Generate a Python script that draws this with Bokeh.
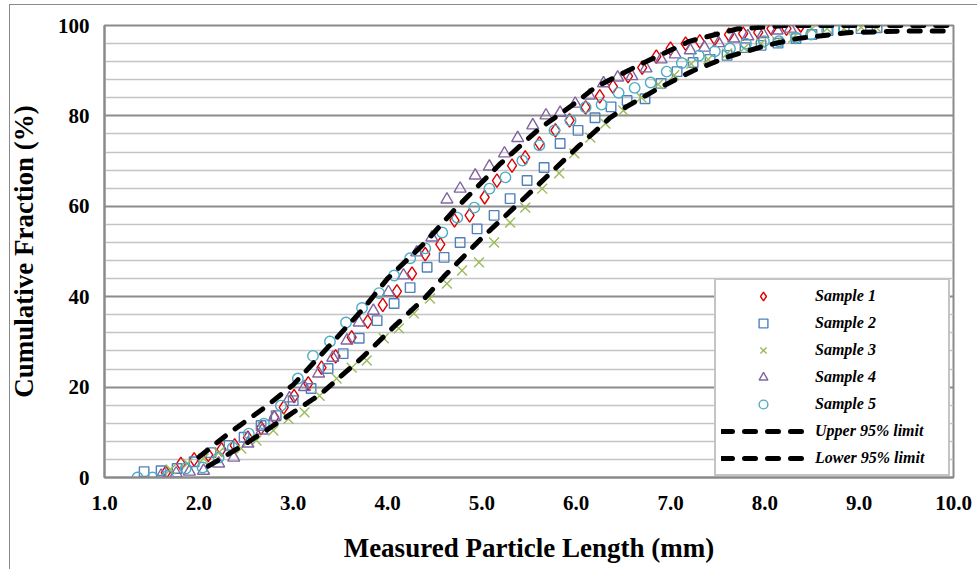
from bokeh.plotting import figure
from bokeh.models import (FixedTicker, Legend, LegendItem, NumeralTickFormatter,
                          InlineStyleSheet)
from bokeh.embed import file_html
from bokeh.resources import INLINE

# ---------------- data ----------------
s1_x = [1.65, 1.81, 1.95, 2.10, 2.24, 2.38, 2.52, 2.66, 2.80, 2.90, 3.01, 3.16, 3.30, 3.45,
        3.62, 3.79, 3.95, 4.10, 4.26, 4.40, 4.56, 4.71, 4.87, 5.03, 5.16, 5.32, 5.46, 5.61,
        5.78, 5.93, 6.10, 6.25, 6.39, 6.55, 6.70, 6.85, 7.00, 7.16, 7.31, 7.47, 7.62, 7.77,
        7.93, 8.07, 8.23, 8.38]
s1_y = [1.1, 3.0, 4.0, 5.0, 6.2, 7.1, 8.8, 11.0, 13.3, 15.5, 18.0, 20.8, 24.3, 26.8,
        31.0, 34.5, 38.2, 41.2, 45.1, 49.4, 51.6, 56.9, 58.0, 62.0, 65.7, 69.0, 70.8, 73.9,
        76.8, 79.0, 81.9, 84.3, 86.5, 88.8, 90.7, 93.1, 94.9, 96.0, 96.5, 97.1, 98.0, 98.2,
        98.5, 99.3, 99.3, 100.0]

s2_x = [1.42, 1.60, 1.77, 1.95, 2.13, 2.32, 2.48, 2.66, 2.82, 3.00, 3.19, 3.37, 3.53, 3.70,
        3.89, 4.07, 4.24, 4.42, 4.60, 4.77, 4.95, 5.13, 5.30, 5.48, 5.66, 5.83, 6.02, 6.20,
        6.37, 6.54, 6.73, 6.90, 7.07, 7.24, 7.42, 7.60, 7.79, 7.96, 8.14, 8.33, 8.50, 8.67,
        8.84, 9.02, 9.19]
s2_y = [1.3, 1.5, 2.0, 3.5, 5.5, 7.1, 8.9, 11.5, 13.7, 17.0, 19.7, 24.1, 27.4, 30.8,
        34.7, 38.5, 42.0, 46.5, 48.7, 52.0, 55.0, 58.0, 61.7, 65.7, 68.6, 73.9, 76.8, 79.6,
        82.0, 83.4, 83.8, 87.2, 89.8, 91.8, 92.5, 93.4, 95.1, 95.6, 96.1, 97.1, 98.0, 98.9,
        99.3, 99.3, 99.5]

s3_x = [1.70, 1.88, 2.05, 2.21, 2.45, 2.61, 2.79, 2.95, 3.12, 3.28, 3.46, 3.62, 3.78, 3.96,
        4.12, 4.28, 4.45, 4.63, 4.79, 4.97, 5.13, 5.30, 5.46, 5.64, 5.82, 5.98, 6.15, 6.31,
        6.50, 6.69, 6.87, 7.04, 7.22, 7.40, 7.60, 7.78, 7.96, 8.13, 8.30, 8.50, 8.66, 8.84,
        9.02, 9.18]
s3_y = [1.8, 3.1, 4.2, 5.5, 6.4, 8.2, 10.4, 13.0, 14.4, 18.1, 21.9, 24.3, 25.9, 30.8,
        33.0, 36.3, 39.6, 42.9, 45.8, 47.6, 52.0, 56.4, 59.7, 63.9, 67.3, 71.7, 75.2, 78.3,
        81.2, 84.1, 87.0, 89.0, 91.5, 92.5, 93.8, 95.0, 96.0, 96.5, 97.3, 99.3, 99.3, 99.3,
        99.6, 99.6]

s4_x = [1.60, 1.76, 1.90, 2.05, 2.21, 2.37, 2.52, 2.67, 2.80, 2.96, 3.12, 3.27, 3.42, 3.57,
        3.70, 3.85, 4.01, 4.17, 4.31, 4.47, 4.63, 4.77, 4.93, 5.08, 5.24, 5.38, 5.54, 5.68,
        5.83, 5.99, 6.14, 6.29, 6.44, 6.59, 6.74, 6.90, 7.05, 7.21, 7.36, 7.51, 7.67, 7.82,
        7.98, 8.13, 8.27]
s4_y = [0.4, 0.9, 1.3, 1.5, 3.1, 4.4, 7.5, 10.4, 13.3, 17.5, 20.0, 23.0, 26.5, 30.3,
        34.3, 36.9, 41.0, 44.7, 49.8, 53.1, 61.5, 63.9, 66.8, 68.8, 71.7, 75.1, 77.9, 80.1,
        80.7, 82.7, 84.5, 87.2, 88.5, 88.8, 90.5, 92.5, 93.6, 94.5, 95.1, 96.1, 97.1, 97.6,
        98.1, 98.9, 99.3]

s5_x = [1.35, 1.51, 1.67, 1.86, 2.04, 2.21, 2.36, 2.53, 2.69, 2.87, 3.05, 3.21, 3.39, 3.56,
        3.73, 3.91, 4.07, 4.24, 4.40, 4.58, 4.74, 4.92, 5.08, 5.25, 5.43, 5.61, 5.77, 5.94,
        6.10, 6.27, 6.45, 6.62, 6.79, 6.96, 7.12, 7.30, 7.47, 7.63, 7.80, 7.99, 8.15, 8.33,
        8.49, 8.66, 8.84]
s5_y = [0.0, 0.0, 0.4, 2.0, 2.2, 4.4, 6.6, 9.7, 11.9, 15.9, 21.9, 26.9, 30.1, 34.3,
        37.5, 40.8, 44.7, 48.5, 50.7, 54.2, 57.5, 59.7, 63.9, 66.4, 70.1, 73.5, 76.8, 79.0,
        81.9, 82.5, 85.1, 86.2, 87.4, 89.8, 91.7, 93.3, 94.3, 94.9, 96.0, 96.5, 96.5, 97.3,
        98.0, 98.9, 99.3]

upper_x = [2.0, 2.3, 2.7, 3.0, 3.4, 3.75, 4.0, 4.4, 4.7, 5.2, 5.6, 6.0, 6.2, 6.7, 7.2, 7.7,
           8.2, 10.0]
upper_y = [4.5, 9.5, 15.5, 20.5, 29.5, 37.5, 44.0, 52.0, 59.0, 69.5, 77.0, 83.0, 86.3, 91.6,
           96.5, 99.2, 100.0, 100.0]

lower_x = [2.1, 2.5, 2.9, 3.3, 3.73, 4.1, 4.4, 4.6, 5.0, 5.46, 6.0, 6.36, 6.53, 6.89, 7.24,
           7.6, 8.0, 8.34, 8.87, 9.5, 10.0]
lower_y = [2.5, 7.5, 13.0, 18.6, 26.5, 34.0, 39.8, 44.5, 53.0, 62.0, 72.8, 79.6, 82.0, 86.3,
           90.0, 93.0, 95.5, 97.1, 98.4, 98.8, 98.8]

x_ticks = [1, 2, 3, 4, 5, 6, 7, 8, 9, 10]
y_ticks = [0, 20, 40, 60, 80, 100]
y_minor = [v for v in range(0, 101, 4) if v % 20 != 0]

# name, x, y, marker, colour, size
series = [
    ("Sample 1", s1_x, s1_y, "diamond", "#e00000", 13.5),
    ("Sample 2", s2_x, s2_y, "square", "#4f81bd", 9.5),
    ("Sample 3", s3_x, s3_y, "x", "#9bbb59", 14),
    ("Sample 4", s4_x, s4_y, "triangle", "#8064a2", 12),
    ("Sample 5", s5_x, s5_y, "circle", "#4bacc6", 10.5),
]

FONT = "Liberation Serif"

p = figure(width=977, height=569, x_range=(1, 10), y_range=(0, 100),
           output_backend="svg", toolbar_location=None,
           min_border_left=104, min_border_right=24, min_border_top=25,
           min_border_bottom=92)

# thin outer chart-area border (left and top edges), drawn without touching layout
p.stylesheets = [InlineStyleSheet(css="""
:host::after {
  content: ""; position: absolute; left: 9px; top: 4px; right: -20px; bottom: -20px;
  border-left: 1.5px solid #8a8a8a; border-top: 1.5px solid #8a8a8a;
  pointer-events: none;
}
""")]

items = []
for name, xs, ys, marker, color, size in series:
    r = p.scatter(xs, ys, marker=marker, size=size, line_color=color,
                  fill_color=None, line_width=1.4)
    items.append(LegendItem(label=name, renderers=[r]))

ru = p.line(upper_x, upper_y, line_color="black", line_width=5, line_dash="11 12",
            line_cap="round")
rl = p.line(lower_x, lower_y, line_color="black", line_width=5, line_dash="11 12",
            line_cap="round")
items.append(LegendItem(label="Upper 95% limit", renderers=[ru]))
items.append(LegendItem(label="Lower 95% limit", renderers=[rl]))

# axes
p.xaxis.ticker = FixedTicker(ticks=x_ticks)
p.xaxis.formatter = NumeralTickFormatter(format="0.0")
p.yaxis.ticker = FixedTicker(ticks=y_ticks, minor_ticks=y_minor)
for ax in (p.xaxis, p.yaxis):
    ax.major_tick_line_color = None
    ax.minor_tick_line_color = None
    ax.axis_line_color = "#8a8a8a"
    ax.axis_line_width = 2
    ax.major_label_text_font = FONT
    ax.major_label_text_font_style = "bold"
    ax.major_label_text_font_size = "21px"
    ax.major_label_text_color = "black"
    ax.axis_label_text_font = FONT
    ax.axis_label_text_font_style = "bold"
    ax.axis_label_text_font_size = "27px"
    ax.axis_label_text_color = "black"
p.xaxis.axis_label = "Measured Particle Length (mm)"
p.yaxis.axis_label = "Cumulative Fraction (%)"
p.xaxis.major_label_standoff = 12
p.xaxis.axis_label_standoff = 20
p.yaxis.major_label_standoff = 9
p.yaxis.axis_label_standoff = 16

p.xgrid.visible = False
p.ygrid.grid_line_color = "#8c8c8c"
p.ygrid.grid_line_width = 2
p.ygrid.minor_grid_line_color = "#c4c4c4"
p.ygrid.minor_grid_line_width = 1.5

p.outline_line_color = "#8a8a8a"
p.outline_line_width = 2

legend = Legend(items=items, location=(610, 1), margin=0, padding=5, spacing=5,
                glyph_width=84, glyph_height=22, label_height=22, label_width=128,
                label_standoff=10, label_text_font=FONT,
                label_text_font_style="bold italic", label_text_font_size="16px",
                label_text_color="black", border_line_color="#8a8a8a",
                border_line_width=2, background_fill_color="white",
                background_fill_alpha=1.0)
p.add_layout(legend)

open("out.html", "w").write(file_html(p, INLINE))
